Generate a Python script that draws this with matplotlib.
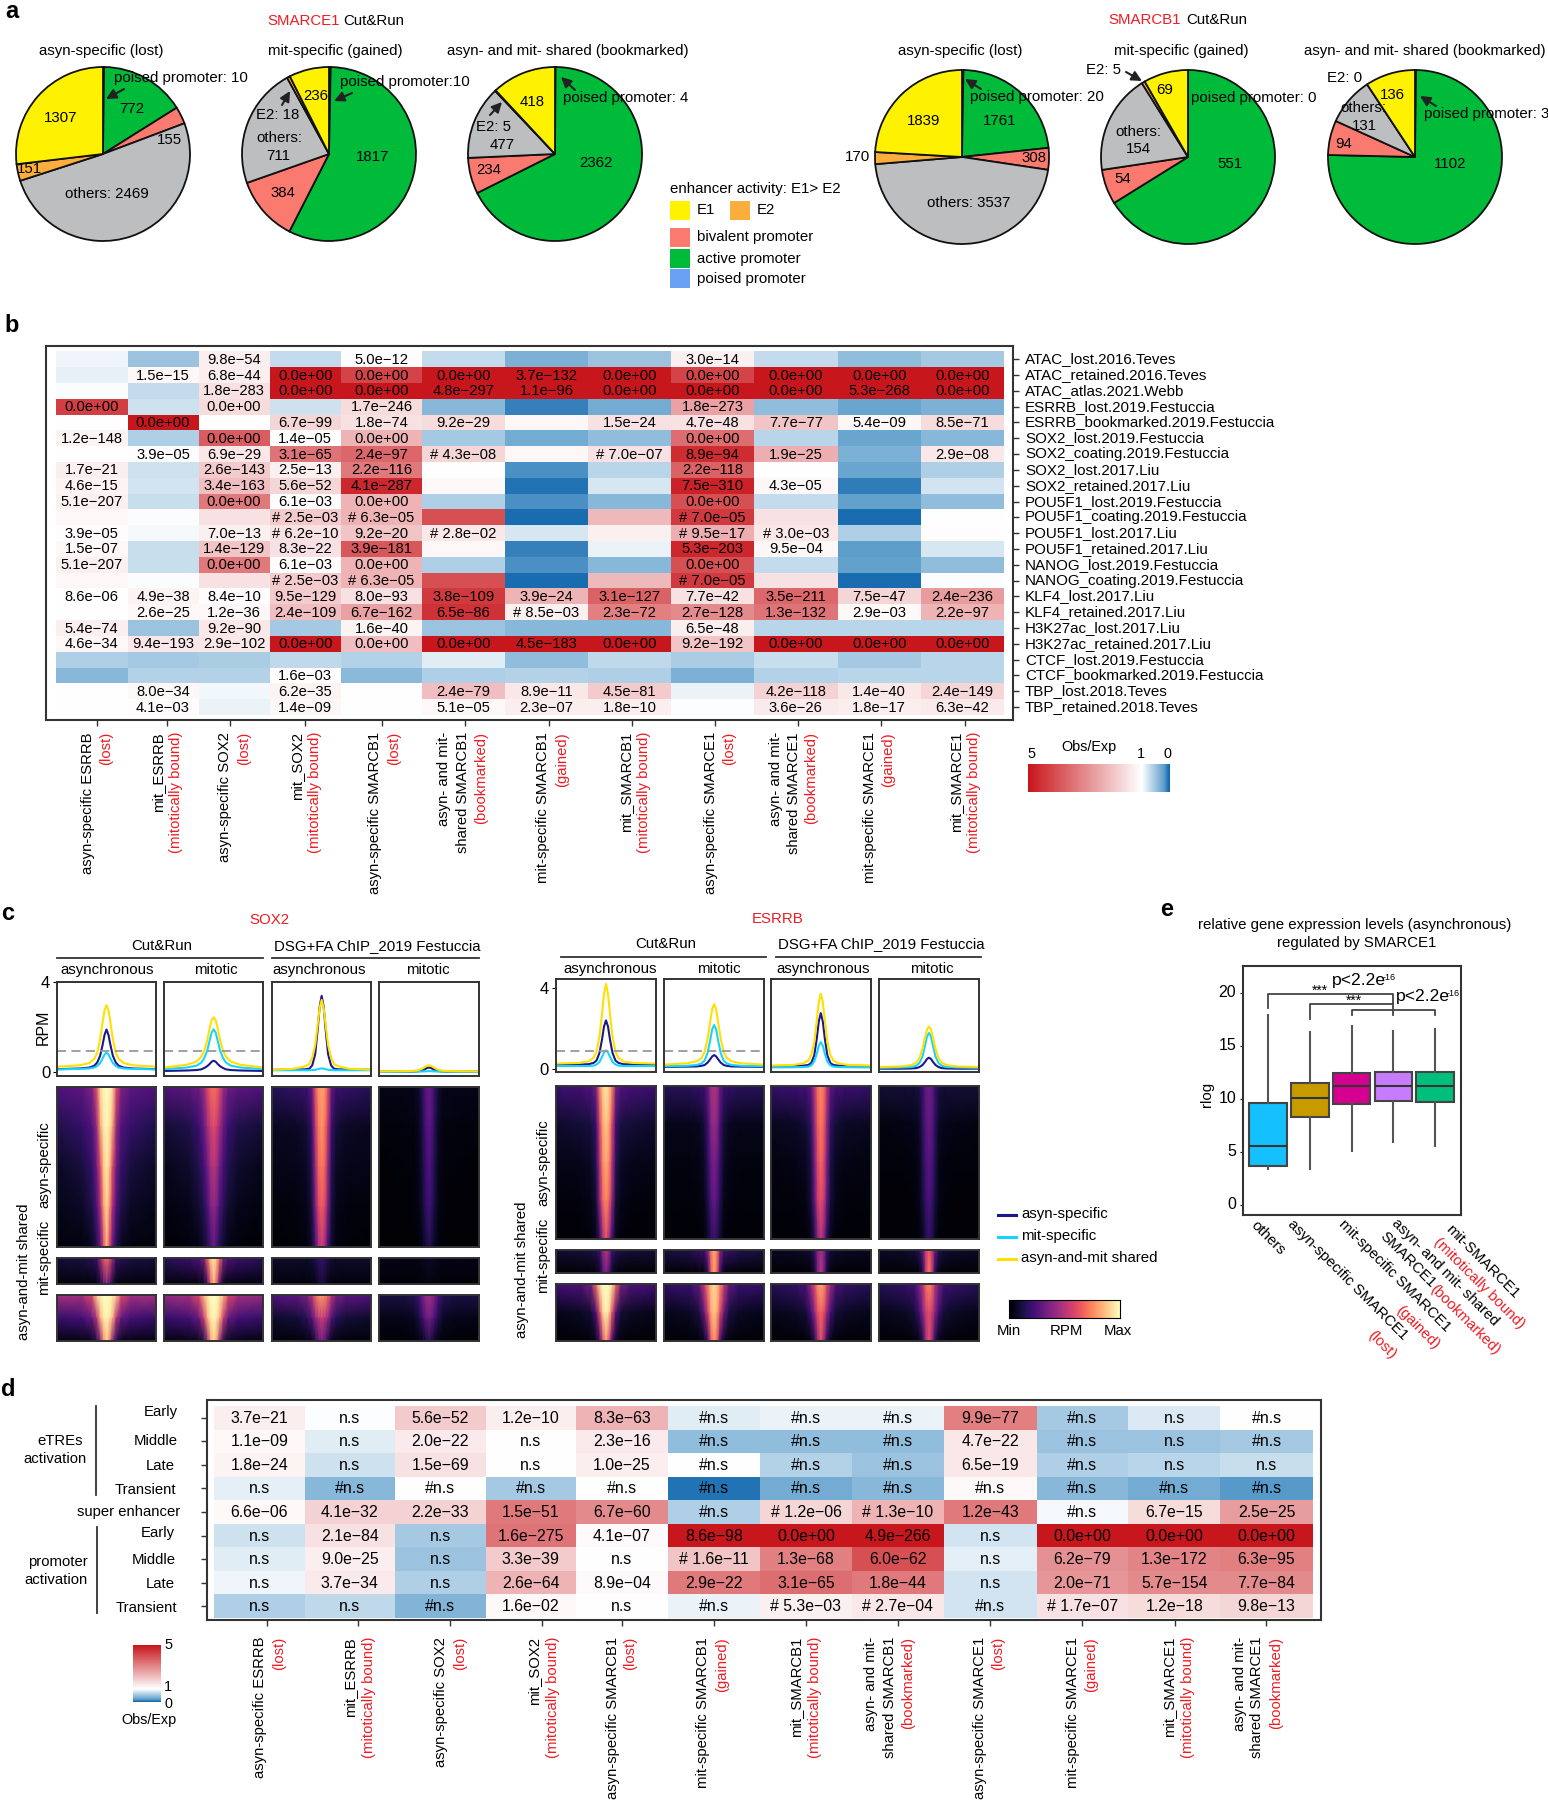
import numpy as np
import matplotlib
matplotlib.use('Agg')
import matplotlib.pyplot as plt
from matplotlib.colors import LinearSegmentedColormap, TwoSlopeNorm
from matplotlib.patches import Rectangle
from matplotlib.transforms import ScaledTranslation

plt.rcParams['font.family'] = ['Liberation Sans', 'DejaVu Sans']

W, H = 1548, 1800
RED = '#ed1c24'
FRAME = '#333333'

# panel a: counts, clockwise from 12 o'clock
pie_parts = ['poised', 'active', 'bivalent', 'others', 'E2', 'E1']
pie_colors = ['#6aa1f5', '#00bb3a', '#fb7a70', '#bdbec0', '#fbae3c', '#fff200']
smarce1_lost = [10, 772, 155, 2469, 151, 1307]
smarce1_gained = [10, 1817, 384, 711, 18, 236]
smarce1_shared = [4, 2362, 234, 477, 5, 418]
smarcb1_lost = [20, 1761, 308, 3537, 170, 1839]
smarcb1_gained = [0, 551, 54, 154, 5, 69]
smarcb1_shared = [3, 1102, 94, 131, 0, 136]

# panel b
b_rows = ['ATAC_lost.2016.Teves', 'ATAC_retained.2016.Teves', 'ATAC_atlas.2021.Webb',
          'ESRRB_lost.2019.Festuccia', 'ESRRB_bookmarked.2019.Festuccia',
          'SOX2_lost.2019.Festuccia', 'SOX2_coating.2019.Festuccia', 'SOX2_lost.2017.Liu',
          'SOX2_retained.2017.Liu', 'POU5F1_lost.2019.Festuccia', 'POU5F1_coating.2019.Festuccia',
          'POU5F1_lost.2017.Liu', 'POU5F1_retained.2017.Liu', 'NANOG_lost.2019.Festuccia',
          'NANOG_coating.2019.Festuccia', 'KLF4_lost.2017.Liu', 'KLF4_retained.2017.Liu',
          'H3K27ac_lost.2017.Liu', 'H3K27ac_retained.2017.Liu', 'CTCF_lost.2019.Festuccia',
          'CTCF_bookmarked.2019.Festuccia', 'TBP_lost.2018.Teves', 'TBP_retained.2018.Teves']
b_values = [
    [.92, .5, 1.3, .7, 1.05, .7, .35, .5, 1.25, .7, .45, .55],
    [.88, 1.15, 1.3, 5, 4.2, 5, 5, 5, 4.2, 5, 5, 5],
    [.97, .7, 1.5, 5, 5, 5, 5, 5, 5, 5, 5, 5],
    [4.3, .75, 1.6, .75, 1.6, .4, .1, .3, 2.6, .45, .25, .35],
    [1.0, 5, 1.0, 1.7, 1.5, 1.6, 1.15, 1.5, 1.5, 2.0, 1.15, 1.6],
    [1.2, .6, 3.8, 1.03, 2.3, .55, .3, .45, 3.5, .65, .25, .4],
    [1.0, 1.05, 1.4, 3.4, 3.6, 1.7, 1.15, 1.5, 4.6, 2.4, .35, 1.4],
    [1.3, .75, 1.9, 1.25, 3.3, 1.0, .15, .65, 3.7, 1.0, .25, .6],
    [1.2, .78, 2.1, 1.7, 4.7, 1.1, .05, .8, 4.8, 1.15, .08, .78],
    [1.25, .72, 3.3, 1.05, 2.3, .6, .15, .4, 4.0, .7, .22, .45],
    [1.15, .97, 1.5, 1.9, 2.3, 4.0, .03, 2.2, 4.4, 1.5, .03, .99],
    [1.05, .95, 1.25, 1.5, 2.0, 1.4, .8, 1.25, 2.4, 1.4, .6, 1.05],
    [1.1, .72, 2.0, 1.5, 3.9, 1.15, .1, .9, 4.7, 1.15, .2, .8],
    [1.25, .72, 3.3, 1.05, 2.3, .6, .15, .4, 4.0, .7, .22, .45],
    [1.15, .97, 1.5, 1.9, 2.3, 4.0, .03, 2.2, 4.4, 1.5, .03, .97],
    [1.02, 1.2, 1.05, 1.9, 1.5, 4.4, 2.3, 3.7, 1.5, 3.6, 1.7, 2.7],
    [1.01, 1.15, 1.15, 2.1, 2.6, 4.5, 1.25, 3.2, 3.0, 3.4, 1.1, 2.3],
    [1.3, .5, 1.4, .55, 1.2, .5, .4, .4, 1.3, .65, .65, .65],
    [1.15, 1.4, 1.4, 5, 2.1, 5, 5, 5, 2.0, 5, 5, 5],
    [.6, .55, .58, .68, .62, .85, .45, .68, .58, .72, .55, .65],
    [.4, .62, .62, 1.03, .42, .6, .62, .6, .35, .62, .65, .65],
    [1.0, 1.15, .93, 1.2, 1.0, 2.1, 1.4, 1.9, .9, 1.8, 1.4, 1.7],
    [1.0, 1.05, .9, 1.15, 1.0, 1.15, 1.3, 1.3, .98, 1.35, 1.3, 1.35],
]
b_text = [
    ['', '', '9.8e-54', '', '5.0e-12', '', '', '', '3.0e-14', '', '', ''],
    ['', '1.5e-15', '6.8e-44', '0.0e+00', '0.0e+00', '0.0e+00', '3.7e-132', '0.0e+00', '0.0e+00', '0.0e+00', '0.0e+00', '0.0e+00'],
    ['', '', '1.8e-283', '0.0e+00', '0.0e+00', '4.8e-297', '1.1e-96', '0.0e+00', '0.0e+00', '0.0e+00', '5.3e-268', '0.0e+00'],
    ['0.0e+00', '', '0.0e+00', '', '1.7e-246', '', '', '', '1.8e-273', '', '', ''],
    ['', '0.0e+00', '', '6.7e-99', '1.8e-74', '9.2e-29', '', '1.5e-24', '4.7e-48', '7.7e-77', '5.4e-09', '8.5e-71'],
    ['1.2e-148', '', '0.0e+00', '1.4e-05', '0.0e+00', '', '', '', '0.0e+00', '', '', ''],
    ['', '3.9e-05', '6.9e-29', '3.1e-65', '2.4e-97', '# 4.3e-08', '', '# 7.0e-07', '8.9e-94', '1.9e-25', '', '2.9e-08'],
    ['1.7e-21', '', '2.6e-143', '2.5e-13', '2.2e-116', '', '', '', '2.2e-118', '', '', ''],
    ['4.6e-15', '', '3.4e-163', '5.6e-52', '4.1e-287', '', '', '', '7.5e-310', '4.3e-05', '', ''],
    ['5.1e-207', '', '0.0e+00', '6.1e-03', '0.0e+00', '', '', '', '0.0e+00', '', '', ''],
    ['', '', '', '# 2.5e-03', '# 6.3e-05', '', '', '', '# 7.0e-05', '', '', ''],
    ['3.9e-05', '', '7.0e-13', '# 6.2e-10', '9.2e-20', '# 2.8e-02', '', '', '# 9.5e-17', '# 3.0e-03', '', ''],
    ['1.5e-07', '', '1.4e-129', '8.3e-22', '3.9e-181', '', '', '', '5.3e-203', '9.5e-04', '', ''],
    ['5.1e-207', '', '0.0e+00', '6.1e-03', '0.0e+00', '', '', '', '0.0e+00', '', '', ''],
    ['', '', '', '# 2.5e-03', '# 6.3e-05', '', '', '', '# 7.0e-05', '', '', ''],
    ['8.6e-06', '4.9e-38', '8.4e-10', '9.5e-129', '8.0e-93', '3.8e-109', '3.9e-24', '3.1e-127', '7.7e-42', '3.5e-211', '7.5e-47', '2.4e-236'],
    ['', '2.6e-25', '1.2e-36', '2.4e-109', '6.7e-162', '6.5e-86', '# 8.5e-03', '2.3e-72', '2.7e-128', '1.3e-132', '2.9e-03', '2.2e-97'],
    ['5.4e-74', '', '9.2e-90', '', '1.6e-40', '', '', '', '6.5e-48', '', '', ''],
    ['4.6e-34', '9.4e-193', '2.9e-102', '0.0e+00', '0.0e+00', '0.0e+00', '4.5e-183', '0.0e+00', '9.2e-192', '0.0e+00', '0.0e+00', '0.0e+00'],
    ['', '', '', '', '', '', '', '', '', '', '', ''],
    ['', '', '', '1.6e-03', '', '', '', '', '', '', '', ''],
    ['', '8.0e-34', '', '6.2e-35', '', '2.4e-79', '8.9e-11', '4.5e-81', '', '4.2e-118', '1.4e-40', '2.4e-149'],
    ['', '4.1e-03', '', '1.4e-09', '', '5.1e-05', '2.3e-07', '1.8e-10', '', '3.6e-26', '1.8e-17', '6.3e-42'],
]
b_col_labels = [
    ['asyn-specific ESRRB', '(lost)'], ['mit_ESRRB', '(mitotically bound)'],
    ['asyn-specific SOX2', '(lost)'], ['mit_SOX2', '(mitotically bound)'],
    ['asyn-specific SMARCB1', '(lost)'], ['asyn- and mit-', 'shared SMARCB1', '(bookmarked)'],
    ['mit-specific SMARCB1', '(gained)'], ['mit_SMARCB1', '(mitotically bound)'],
    ['asyn-specific SMARCE1', '(lost)'], ['asyn- and mit-', 'shared SMARCE1', '(bookmarked)'],
    ['mit-specific SMARCE1', '(gained)'], ['mit_SMARCE1', '(mitotically bound)'],
]

# panel d
d_rows = ['Early', 'Middle', 'Late', 'Transient', 'super enhancer', 'Early', 'Middle', 'Late', 'Transient']
d_values = [
    [1.3, .98, 1.9, 1.3, 2.3, .85, .9, .9, 3.2, .55, .82, 1.0],
    [1.15, .85, 1.35, 1.02, 1.35, .45, .45, .45, 1.4, .5, .5, .55],
    [1.2, .75, 1.5, 1.02, 1.3, 1.0, .62, .5, 1.4, .6, .65, .72],
    [.87, .4, 1.0, .55, 1.0, .05, .3, .4, 1.1, .4, .3, .18],
    [1.12, 1.8, 1.8, 3.3, 3.0, .6, 1.7, 2.3, 3.3, .95, 1.6, 2.7],
    [.75, 1.5, .55, 3.4, 1.07, 5, 5, 5, .78, 5, 5, 5],
    [.85, 1.3, .5, 1.9, 1.03, 2.0, 3.2, 4.0, .87, 2.9, 3.1, 3.2],
    [.92, 1.35, .6, 2.3, 1.08, 3.3, 3.5, 3.3, .78, 2.8, 3.0, 3.0],
    [.6, .68, .38, 1.1, 1.0, .9, 1.25, 1.4, .78, 1.5, 1.6, 1.7],
]
d_text = [
    ['3.7e-21', 'n.s', '5.6e-52', '1.2e-10', '8.3e-63', '#n.s', '#n.s', '#n.s', '9.9e-77', '#n.s', 'n.s', '#n.s'],
    ['1.1e-09', 'n.s', '2.0e-22', 'n.s', '2.3e-16', '#n.s', '#n.s', '#n.s', '4.7e-22', '#n.s', 'n.s', '#n.s'],
    ['1.8e-24', 'n.s', '1.5e-69', 'n.s', '1.0e-25', '#n.s', '#n.s', '#n.s', '6.5e-19', '#n.s', 'n.s', 'n.s'],
    ['n.s', '#n.s', '#n.s', '#n.s', '#n.s', '#n.s', '#n.s', '#n.s', '#n.s', '#n.s', '#n.s', '#n.s'],
    ['6.6e-06', '4.1e-32', '2.2e-33', '1.5e-51', '6.7e-60', '#n.s', '# 1.2e-06', '# 1.3e-10', '1.2e-43', '#n.s', '6.7e-15', '2.5e-25'],
    ['n.s', '2.1e-84', 'n.s', '1.6e-275', '4.1e-07', '8.6e-98', '0.0e+00', '4.9e-266', 'n.s', '0.0e+00', '0.0e+00', '0.0e+00'],
    ['n.s', '9.0e-25', 'n.s', '3.3e-39', 'n.s', '# 1.6e-11', '1.3e-68', '6.0e-62', 'n.s', '6.2e-79', '1.3e-172', '6.3e-95'],
    ['n.s', '3.7e-34', 'n.s', '2.6e-64', '8.9e-04', '2.9e-22', '3.1e-65', '1.8e-44', 'n.s', '2.0e-71', '5.7e-154', '7.7e-84'],
    ['n.s', 'n.s', '#n.s', '1.6e-02', 'n.s', '#n.s', '# 5.3e-03', '# 2.7e-04', '#n.s', '# 1.7e-07', '1.2e-18', '9.8e-13'],
]
d_col_labels = [
    ['asyn-specific ESRRB', '(lost)'], ['mit_ESRRB', '(mitotically bound)'],
    ['asyn-specific SOX2', '(lost)'], ['mit_SOX2', '(mitotically bound)'],
    ['asyn-specific SMARCB1', '(lost)'], ['mit-specific SMARCB1', '(gained)'],
    ['mit_SMARCB1', '(mitotically bound)'], ['asyn- and mit-', 'shared SMARCB1', '(bookmarked)'],
    ['asyn-specific SMARCE1', '(lost)'], ['mit-specific SMARCE1', '(gained)'],
    ['mit_SMARCE1', '(mitotically bound)'], ['asyn- and mit-', 'shared SMARCE1', '(bookmarked)'],
]

# panel c: average profiles (RPM), centre outwards, one per window
trace_offsets = [0, .04, .08, .13, .19, .25, .35, .55, 1]
sox2_navy = [[1.89, 1.65, 1.2, .72, .42, .28, .2, .16, .13],
             [.5, .46, .36, .26, .18, .12, .09, .07, .05],
             [3.37, 2.9, 1.9, .8, .3, .15, .12, .11, .1],
             [.2, .18, .13, .08, .05, .03, .02, .02, .02]]
sox2_cyan = [[.87, .78, .6, .4, .27, .2, .16, .14, .12],
             [1.89, 1.75, 1.4, .95, .62, .42, .28, .2, .13],
             [.16, .15, .13, .1, .09, .08, .08, .08, .08],
             [.04, .04, .03, .03, .02, .02, .02, .02, .02]]
sox2_yellow = [[2.97, 2.75, 2.2, 1.45, .85, .58, .4, .3, .24],
               [2.42, 2.3, 1.95, 1.4, .95, .68, .46, .32, .2],
               [3.19, 2.85, 2.1, 1.2, .65, .35, .25, .15, .1],
               [.3, .28, .23, .16, .1, .07, .05, .04, .03]]
esrrb_navy = [[2.4, 2.1, 1.45, .8, .42, .3, .24, .22, .21],
              [.69, .62, .48, .32, .2, .16, .13, .12, .11],
              [2.76, 2.35, 1.5, .68, .3, .2, .17, .16, .15],
              [.56, .5, .35, .2, .1, .05, .03, .02, .02]]
esrrb_cyan = [[.92, .82, .6, .35, .22, .17, .15, .15, .15],
              [2.17, 1.95, 1.4, .8, .42, .28, .2, .16, .14],
              [1.33, 1.15, .75, .38, .18, .12, .1, .09, .08],
              [1.78, 1.6, 1.15, .62, .3, .17, .1, .08, .06]]
esrrb_yellow = [[4.2, 3.7, 2.7, 1.6, .85, .55, .38, .3, .27],
                [3.2, 2.95, 2.3, 1.5, .85, .55, .38, .28, .22],
                [3.72, 3.3, 2.4, 1.35, .7, .42, .28, .2, .17],
                [2.1, 1.95, 1.55, 1.0, .55, .32, .2, .13, .1]]
sox2_dash = .93
esrrb_dash = .89

# panel c: density (0-1), top to bottom, centre outwards
density_offsets = [0, .06, .12, .2, .3, .5, 1]
sox2_main = [
    [[1, .98, .93, .62, .36, .28, .25], [.98, .95, .82, .42, .25, .18, .13], [.95, .88, .62, .32, .18, .11, .07], [.92, .78, .48, .25, .13, .07, .05], [.85, .6, .3, .14, .06, .03, .02]],
    [[.7, .68, .6, .42, .32, .28, .25], [.6, .55, .45, .3, .2, .13, .1], [.5, .45, .33, .22, .14, .08, .05], [.4, .36, .25, .15, .09, .05, .03], [.3, .22, .14, .08, .04, .02, .01]],
    [[.8, .78, .65, .3, .2, .18, .15], [.78, .72, .55, .2, .1, .07, .06], [.72, .68, .45, .15, .07, .05, .04], [.66, .6, .38, .12, .05, .03, .02], [.55, .45, .25, .08, .03, .02, .01]],
    [[.3, .27, .18, .08, .05, .04, .04], [.28, .24, .14, .06, .03, .03, .02], [.25, .2, .12, .05, .02, .02, .01], [.22, .17, .1, .04, .02, .01, .01], [.14, .1, .06, .02, .01, .01, .01]],
]
sox2_mit = [
    [[.7, .65, .45, .2, .15, .12, .1], [.35, .25, .1, .03, .02, .02, .02]],
    [[.95, .9, .7, .35, .25, .2, .15], [.85, .65, .25, .06, .03, .02, .02]],
    [[.2, .18, .14, .1, .08, .08, .08], [.1, .08, .04, .02, .02, .02, .02]],
    [[.08, .07, .06, .04, .04, .04, .04], [.03, .03, .02, .02, .01, .01, .01]],
]
sox2_shared = [
    [[1, 1, .98, .9, .6, .45, .45], [.98, .95, .85, .5, .3, .22, .18], [.9, .75, .4, .15, .06, .04, .03]],
    [[1, 1, .95, .85, .6, .45, .42], [.98, .95, .85, .55, .3, .22, .18], [.92, .8, .45, .14, .07, .05, .03]],
    [[.8, .78, .7, .5, .35, .28, .25], [.55, .5, .42, .25, .15, .1, .08], [.35, .28, .15, .05, .03, .02, .02]],
    [[.45, .42, .35, .22, .15, .12, .12], [.33, .3, .22, .12, .06, .05, .04], [.15, .1, .06, .03, .02, .01, .01]],
]
esrrb_main = [
    [[.95, .9, .75, .35, .25, .22, .2], [.88, .82, .6, .2, .12, .1, .08], [.82, .76, .5, .15, .07, .05, .04], [.75, .68, .42, .1, .05, .03, .02], [.62, .45, .2, .05, .02, .01, .01]],
    [[.48, .45, .3, .2, .18, .16, .15], [.42, .38, .22, .1, .06, .05, .05], [.35, .3, .18, .07, .04, .03, .03], [.3, .25, .14, .05, .03, .02, .02], [.2, .15, .08, .02, .01, .01, .01]],
    [[.75, .7, .5, .28, .22, .2, .18], [.72, .66, .42, .17, .1, .07, .06], [.68, .6, .35, .12, .06, .04, .03], [.62, .55, .3, .1, .04, .02, .02], [.5, .38, .15, .04, .02, .01, .01]],
    [[.32, .3, .2, .12, .1, .1, .1], [.3, .27, .17, .07, .05, .04, .03], [.27, .24, .14, .05, .03, .02, .02], [.24, .2, .11, .04, .02, .01, .01], [.18, .13, .06, .02, .01, .01, .01]],
]
esrrb_mit = [
    [[.5, .42, .22, .15, .12, .1, .1], [.35, .25, .08, .02, .01, .01, .01]],
    [[.82, .72, .4, .22, .18, .14, .12], [.82, .65, .18, .03, .02, .01, .01]],
    [[.45, .38, .2, .1, .08, .07, .06], [.5, .35, .1, .02, .01, .01, .01]],
    [[.65, .55, .3, .15, .1, .08, .07], [.72, .55, .15, .03, .01, .01, .01]],
]
esrrb_shared = [
    [[1, 1, .95, .7, .35, .25, .22], [.97, .92, .65, .25, .1, .07, .05], [.8, .6, .22, .06, .02, .01, .01]],
    [[.92, .88, .75, .55, .3, .2, .18], [.88, .82, .6, .3, .12, .07, .05], [.78, .65, .22, .06, .02, .01, .01]],
    [[.82, .78, .62, .42, .25, .18, .15], [.68, .62, .42, .22, .1, .07, .05], [.62, .42, .15, .04, .02, .01, .01]],
    [[.75, .7, .5, .35, .22, .18, .15], [.6, .55, .38, .2, .1, .07, .05], [.62, .45, .15, .04, .02, .01, .01]],
]

# panel e
box_low = [3.37, 3.43, 5.13, 5.92, 5.6]
box_q1 = [3.7, 8.28, 9.54, 9.86, 9.73]
box_med = [5.54, 10.14, 11.2, 11.24, 11.2]
box_q3 = [9.67, 11.56, 12.5, 12.53, 12.53]
box_high = [17.95, 16.3, 16.9, 16.47, 16.63]
box_colors = ['#15c0ff', '#c79a00', '#d5008f', '#c77cff', '#00bf7d']
box_yticks = [0, 5, 10, 15, 20]


fig = plt.figure(figsize=(W / 100, H / 100), dpi=100)


def px_axes(x0, y0, x1, y1, **kw):
    """axes placed with picture pixels, y going down"""
    return fig.add_axes([x0 / W, 1 - y1 / H, (x1 - x0) / W, (y1 - y0) / H], **kw)


over = px_axes(0, 0, W, H, zorder=20)
over.set_xlim(0, W)
over.set_ylim(H, 0)
over.axis('off')
over.patch.set_alpha(0)


def put(x, y, s, size=10.8, ha='center', va='center', **kw):
    over.text(x, y, s, fontsize=size, ha=ha, va=va, **kw)


def arrow(x0, y0, x1, y1):
    over.annotate('', xy=(x1, y1), xytext=(x0, y0),
                  arrowprops=dict(arrowstyle='-|>', color='#222222', lw=1.5, mutation_scale=15,
                                  shrinkA=0, shrinkB=0))


def draw_pie(cx, cy, values):
    r = 87
    ax = px_axes(cx - r - 2, cy - r - 2, cx + r + 2, cy + r + 2)
    ax.pie(values, colors=pie_colors, startangle=90, counterclock=False, radius=1,
           wedgeprops=dict(edgecolor='#111111', linewidth=1.3))
    ax.set_xlim(-89 / 87, 89 / 87)
    ax.set_ylim(-89 / 87, 89 / 87)


# panel letters
for x, y, s in [(12, 12, 'a'), (12, 325, 'b'), (8, 913, 'c'), (1167, 910, 'e'), (8, 1390, 'd')]:
    put(x, y, s, size=17, fontweight='bold', ha='center')

# --- a ---
draw_pie(103, 154, smarce1_lost)
draw_pie(329, 154, smarce1_gained)
draw_pie(555, 154, smarce1_shared)
draw_pie(962, 157, smarcb1_lost)
draw_pie(1188, 157, smarcb1_gained)
draw_pie(1415, 157, smarcb1_shared)

put(267, 21, 'SMARCE1', ha='left', color=RED)
put(343, 21, 'Cut&Run', ha='left')
put(1108, 19.5, 'SMARCB1', ha='left', color=RED)
put(1186, 19.5, 'Cut&Run', ha='left')
for x, y, s in [(101.5, 51, 'asyn-specific (lost)'), (335, 51, 'mit-specific (gained)'),
                (568, 51, 'asyn- and mit- shared (bookmarked)'), (960, 51, 'asyn-specific (lost)'),
                (1181, 51, 'mit-specific (gained)'), (1425, 51, 'asyn- and mit- shared (bookmarked)')]:
    put(x, y, s)
for x, y, s in [(132, 109, '772'), (61, 118, '1307'), (169, 140, '155'), (29, 169, '151'),
                (107, 194, 'others: 2469'), (316, 96, '236'), (278, 115, 'E2: 18'), (279, 138, 'others:'),
                (278, 156, '711'), (283, 193, '384'), (373, 157, '1817'), (532, 102, '418'),
                (494, 127, 'E2: 5'), (502.5, 145, '477'), (489, 170, '234'), (596, 163, '2362'),
                (924, 121, '1839'), (1000, 121, '1761'), (1034, 158, '308'), (858, 157, '170'),
                (969, 203, 'others: 3537'), (1104, 70, 'E2: 5'), (1165, 90, '69'), (1138, 132, 'others:'),
                (1138, 149, '154'), (1123, 179, '54'), (1229.5, 164, '551'), (1345, 78, 'E2: 0'),
                (1392, 95, '136'), (1363, 108, 'others:'), (1364, 126, '131'), (1344, 144, '94'),
                (1450.6, 164, '1102')]:
    put(x, y, s)
for x, y, s in [(114, 78, 'poised promoter: 10'), (340, 82, 'poised promoter:10'), (563, 98, 'poised promoter: 4'),
                (970, 97, 'poised promoter: 20'), (1191, 98, 'poised promoter: 0'), (1423.6, 114, 'poised promoter: 3')]:
    put(x, y, s, ha='left')
arrow(124, 89, 106, 99)
arrow(352, 93, 334, 101)
arrow(282, 105, 290, 91)
arrow(575, 90, 561, 77)
arrow(490, 115, 502, 102)
arrow(981, 89, 965, 79)
arrow(1126, 72, 1142, 81)
arrow(1436, 106, 1420, 96)

# pie legend
put(670, 189, 'enhancer activity: E1> E2', ha='left')
legend_boxes = [(670, 201, '#fff200', 697, 'E1'), (730, 201, '#fbae3c', 757, 'E2'),
                (670, 228, '#fb7a70', 697, 'bivalent promoter'), (670, 249, '#00bb3a', 697, 'active promoter'),
                (670, 269, '#6aa1f5', 697, 'poised promoter')]
for x, y, c, tx, s in legend_boxes:
    over.add_patch(Rectangle((x, y), 20, 19, facecolor=c, edgecolor='none'))
    put(tx, y + 9.5, s, ha='left')

# --- heatmaps b and d ---
obs_cmap = LinearSegmentedColormap.from_list('obs', [(0, '#0f65ab'), (1 / 5 * .5, '#5f9fcc'), (.5, '#ffffff'), (1, '#c8171c')])
obs_norm = TwoSlopeNorm(vmin=0, vcenter=1, vmax=5)


def draw_table(box, xedges, yedges, values, text, ticks, size, side):
    ax = px_axes(*box)
    ax.set_xlim(box[0], box[2])
    ax.set_ylim(box[3], box[1])
    ax.pcolormesh(xedges, yedges, np.array(values), cmap=obs_cmap, norm=obs_norm)
    xc = (np.array(xedges[:-1]) + np.array(xedges[1:])) / 2
    yc = (np.array(yedges[:-1]) + np.array(yedges[1:])) / 2
    for i, row in enumerate(text):
        for j, s in enumerate(row):
            if s:
                ax.text(xc[j], yc[i] + .5, s.replace('e-', 'e\u2212'), fontsize=size, ha='center', va='center')
    ax.set_xticks(ticks)
    ax.set_xticklabels([])
    ax.set_yticks(yc)
    ax.set_yticklabels([])
    ax.tick_params(length=4, width=1, color=FRAME)
    if side == 'right':
        ax.yaxis.tick_right()
    for sp in ax.spines.values():
        sp.set_linewidth(1.5)
        sp.set_color(FRAME)
    return yc


def col_label(xs, top, lines, size=10.7):
    for x, line in zip(xs, lines):
        red = line.startswith('(')
        put(x, top, line, size=size, rotation=90, va='top', color=RED if red else 'black')


b_edges = [56, 127.5, 198.6, 269.6, 341, 422, 505, 588, 671, 754, 837.5, 921, 1004]
b_yedges = list(np.linspace(351.3, 715, 24))
b_ticks = [96.7, 166.8, 229.7, 304.7, 382, 465, 548.5, 632, 715, 798, 881.4, 964.6]
yc = draw_table((46, 346, 1013, 720), b_edges, b_yedges, b_values, b_text, b_ticks, 10.6, 'right')
for y, s in zip(yc, b_rows):
    put(1025, y, s, size=10.9, ha='left')
b_label_x = [[88, 106], [158, 176], [225, 244], [297, 315], [375, 394], [444, 463, 481],
             [543.5, 562], [626, 644], [711, 729], [776, 793.6, 811], [870, 888], [956, 974]]
for xs, lines in zip(b_label_x, b_col_labels):
    col_label(xs, 732, lines)


def gradient_row(n1=120, n2=30):
    return np.concatenate([np.linspace(5, 1, n1), np.linspace(1, 0, n2)])


ax = px_axes(1027.5, 764, 1168.6, 792)
ax.imshow(gradient_row()[None, :], aspect='auto', cmap=obs_cmap, norm=obs_norm)
ax.axis('off')
put(1089, 747, 'Obs/Exp', size=10.4)
put(1031, 754, '5', size=10.4)
put(1141, 754, '1', size=10.4)
put(1167, 754, '0', size=10.4)

d_edges = [214, 304.5, 395, 485.7, 576, 668, 760, 852, 944, 1036.5, 1128, 1220.4, 1312.6]
d_yedges = list(np.linspace(1406, 1618, 10))
d_ticks = [266.5, 358, 450, 542, 622, 714, 806, 898.4, 990, 1082, 1174.5, 1266]
draw_table((207, 1400, 1321, 1620), d_edges, d_yedges, d_values, d_text, d_ticks, 11.4, 'left')
d_row_x = [161, 156, 160, 145.5, 128.6, 158, 154, 160.7, 146]
d_row_y = [1412, 1441, 1466, 1490, 1512, 1533, 1560, 1584, 1608]
for x, y, s in zip(d_row_x, d_row_y, d_rows):
    put(x, y, s, size=10.7)
put(60, 1441, 'eTREs', size=10.7)
put(55, 1459, 'activation', size=10.7)
put(58, 1562, 'promoter', size=10.7)
put(56, 1580, 'activation', size=10.7)
over.plot([95.5, 95.5], [1405.7, 1495], color=FRAME, lw=1.3)
over.plot([96.5, 96.5], [1527, 1613], color=FRAME, lw=1.3)
d_label_x = [[260, 279], [350.4, 369], [440.6, 460], [534, 553], [612.5, 630], [703, 722],
             [796, 815], [871.5, 889.6, 908], [980, 998.6], [1072.7, 1091.6], [1169.5, 1188.4], [1240, 1257, 1276]]
for xs, lines in zip(d_label_x, d_col_labels):
    col_label(xs, 1637, lines)

ax = px_axes(133, 1645, 161, 1702)
ax.imshow(gradient_row(100, 30)[:, None], aspect='auto', cmap=obs_cmap, norm=obs_norm)
ax.axis('off')
put(168, 1645, '5', size=10.4)
put(168, 1687, '1', size=10.4)
put(168, 1704, '0', size=10.4)
put(149, 1720, 'Obs/Exp', size=10.4)

# --- c ---
navy, cyan, yellow = '#1a1a8c', '#19d3ff', '#ffe000'


def mirrored(offsets, half):
    xs = np.concatenate([-np.array(offsets[:0:-1]), np.array(offsets)])
    ys = np.concatenate([np.array(half)[..., :0:-1], np.array(half)], axis=-1)
    return xs, ys


def framed(ax):
    ax.set_xticks([])
    ax.set_yticks([])
    for sp in ax.spines.values():
        sp.set_linewidth(1.4)
        sp.set_color(FRAME)


def density(box, rows):
    ax = px_axes(*box)
    xs, z = mirrored(density_offsets, rows)
    ys = np.arange(len(rows))
    ax.pcolormesh(xs, ys, z, cmap='magma', vmin=0, vmax=1, shading='gouraud')
    ax.set_xlim(-1, 1)
    ax.set_ylim(len(rows) - 1, 0)
    framed(ax)


def signal_panel(cols, line_box, ylim, dash, main_box, mit_box, shared_box, lines_n, lines_c, lines_y, main, mit, shared):
    for k, (x0, x1) in enumerate(cols):
        ax = px_axes(x0, line_box[0], x1, line_box[1])
        for half, c in [(lines_n[k], navy), (lines_c[k], cyan), (lines_y[k], yellow)]:
            xs, ys = mirrored(trace_offsets, half)
            ax.plot(xs, ys, color=c, lw=1.5, solid_joinstyle='round')
        if k < 2:
            ax.axhline(dash, color='#999999', lw=1.3, ls=(0, (5, 3)))
        ax.set_xlim(-1, 1)
        ax.set_ylim(*ylim)
        framed(ax)
        if k == 0:
            ax.set_yticks([0, 4])
            ax.set_yticklabels(['0', '4'], fontsize=12)
            ax.tick_params(axis='y', length=3, pad=2)
        density((x0, main_box[0], x1, main_box[1]), main[k])
        density((x0, mit_box[0], x1, mit_box[1]), mit[k])
        density((x0, shared_box[0], x1, shared_box[1]), shared[k])


signal_panel([(57.3, 155.7), (164.3, 263), (272.3, 371), (379.3, 478.7)], (982, 1075.7), (-.16, 3.98), sox2_dash,
             (1087, 1247), (1257.7, 1284.3), (1295.3, 1341), sox2_navy, sox2_cyan, sox2_yellow,
             sox2_main, sox2_mit, sox2_shared)
signal_panel([(556, 656), (664, 764.3), (770.6, 871), (879, 979)], (979, 1071.7), (-.13, 4.44), esrrb_dash,
             (1086, 1238.7), (1249.7, 1272.7), (1283.7, 1341), esrrb_navy, esrrb_cyan, esrrb_yellow,
             esrrb_main, esrrb_mit, esrrb_shared)

put(269, 920, 'SOX2', color=RED)
put(778, 919, 'ESRRB', color=RED)
for x, y, s in [(162, 946, 'Cut&Run'), (377, 946, 'DSG+FA ChIP_2019 Festuccia'),
                (107, 970, 'asynchronous'), (216, 970, 'mitotic'), (319, 970, 'asynchronous'), (428, 970, 'mitotic'),
                (666, 944, 'Cut&Run'), (881, 944, 'DSG+FA ChIP_2019 Festuccia'),
                (610, 969, 'asynchronous'), (719, 969, 'mitotic'), (823, 969, 'asynchronous'), (932, 969, 'mitotic')]:
    put(x, y, s)
for x0, x1, y in [(57, 263, 958), (272, 479, 958), (561, 766, 957), (776, 981, 957)]:
    over.plot([x0, x1], [y, y], color=FRAME, lw=1.3)
put(43, 1027, 'RPM', size=11.5, rotation=90)
put(44, 1165, 'asyn-specific', rotation=90)
put(44, 1257, 'mit-specific', rotation=90)
put(24, 1272, 'asyn-and-mit shared', rotation=90)
put(543, 1163, 'asyn-specific', rotation=90)
put(543, 1255, 'mit-specific', rotation=90)
put(522, 1270, 'asyn-and-mit shared', rotation=90)

for y, c, s in [(1215, navy, 'asyn-specific'), (1237, cyan, 'mit-specific'), (1259, yellow, 'asyn-and-mit shared')]:
    over.plot([997.5, 1015.6], [y, y], color=c, lw=2.2)
    put(1021, y - 1, s, ha='left')

ax = px_axes(1009, 1300, 1119.5, 1318)
ax.imshow(np.linspace(0, 1, 200)[None, :], aspect='auto', cmap='magma')
ax.set_xticks([])
ax.set_yticks([])
put(1009, 1331, 'Min')
put(1066.5, 1331, 'RPM')
put(1118, 1331, 'Max')

# --- e ---
ax = px_axes(1243, 966.3, 1461, 1215)
stats = [dict(whislo=a, q1=b, med=c, q3=d, whishi=e) for a, b, c, d, e in zip(box_low, box_q1, box_med, box_q3, box_high)]
parts = ax.bxp(stats, positions=[1, 2, 3, 4, 5], widths=.9, patch_artist=True, showcaps=False, showfliers=False,
               boxprops=dict(edgecolor='#444444', linewidth=1.5),
               medianprops=dict(color='#333333', linewidth=1.5),
               whiskerprops=dict(color='#555555', linewidth=1.5))
for patch, c in zip(parts['boxes'], box_colors):
    patch.set_facecolor(c)
ax.set_xlim(.4, 5.617)
ax.set_ylim(-.94, 22.55)
ax.set_xticks([])
ax.set_yticks(box_yticks)
ax.tick_params(axis='y', labelsize=11.5, length=2, pad=3)
for lab in ax.get_yticklabels():
    lab.set_transform(lab.get_transform() + ScaledTranslation(0, .025, fig.dpi_scale_trans))
for sp in ax.spines.values():
    sp.set_linewidth(1.5)
    sp.set_color(FRAME)
ax.plot([1, 1, 4, 4], [18.58, 19.94, 19.94, 17.95], color='#444444', lw=1.3)
ax.plot([2, 2, 4], [17.57, 18.96, 18.96], color='#444444', lw=1.3)
ax.plot([3, 3, 5, 5], [17.95, 18.43, 18.43, 17.95], color='#444444', lw=1.3)
put(1320, 990.5, '***', size=10)
put(1354, 1000.5, '***', size=10)
put(1332, 981, 'p<2.2e', size=12.6, ha='left')
put(1383, 977.5, '-16', size=6.5, ha='left')
put(1396, 997, 'p<2.2e', size=12.6, ha='left')
put(1447, 994, '-16', size=6.5, ha='left')
put(1355, 925, 'relative gene expression levels (asynchronous)')
put(1357, 943, 'regulated by SMARCE1')
put(1207, 1094, 'rlog', rotation=90)

e_labels = [(1253, 1223, 'others', 'black'),
            (1290, 1222, 'asyn-specific SMARCE1', 'black'),
            (1370, 1333, '(lost)', RED),
            (1341, 1222, 'mit-specific SMARCE1', 'black'),
            (1398, 1308, '(gained)', RED),
            (1394, 1221, 'asyn- and mit- shared', 'black'),
            (1382, 1234, 'SMARCE1', 'black'),
            (1432, 1287, '(bookmarked)', RED),
            (1448, 1227, 'mit-SMARCE1', 'black'),
            (1436, 1240, '(mitotically bound)', RED)]
for x, y, s, c in e_labels:
    over.text(x, y, s, fontsize=10.8, color=c, rotation=-45, rotation_mode='anchor', ha='left', va='center')

fig.savefig('out.png', dpi=100)
